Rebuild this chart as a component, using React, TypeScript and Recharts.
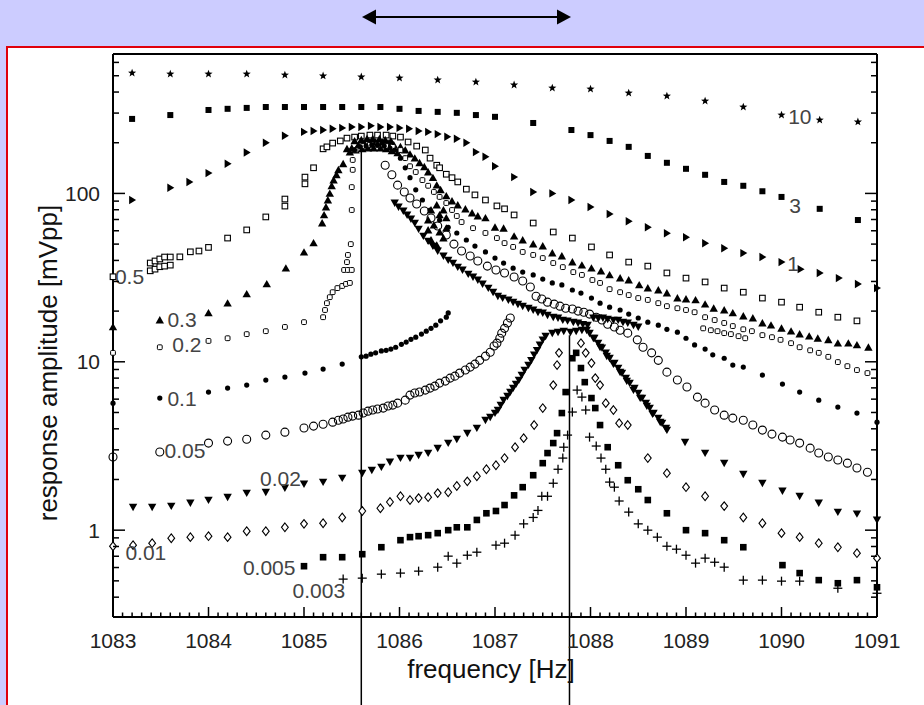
import React from 'react';
import { ScatterChart, Scatter, XAxis, YAxis, ReferenceLine } from 'recharts';

// frequency [Hz] and response amplitude [mVpp], one pair per drive level

// 10
const f10 = [1083.2, 1083.6, 1084.0, 1084.4, 1084.8, 1085.2, 1085.6, 1086.0, 1086.4, 1086.8, 1087.2, 1087.6, 1088.0, 1088.4, 1088.8, 1089.2, 1089.6, 1090.0, 1090.4, 1090.8];
const a10 = [519, 512, 512, 512, 505, 499, 492, 485, 472, 459, 441, 423, 417, 395, 379, 354, 326, 292, 273, 266];

// 3
const f3 = [1083.2, 1083.6, 1084.0, 1084.2, 1084.4, 1084.6, 1084.8, 1085.0, 1085.2, 1085.4, 1085.6, 1085.8, 1086.0, 1086.2, 1086.4, 1086.6, 1086.8, 1087.0, 1087.4, 1087.8, 1088.0, 1088.2, 1088.4, 1088.6, 1088.8, 1089.0, 1089.2, 1089.4, 1089.6, 1089.8, 1090.0, 1090.4, 1090.8];
const a3 = [277, 292, 313, 318, 322, 326, 326, 326, 326, 326, 326, 326, 318, 309, 305, 301, 292, 285, 262, 238, 222, 205, 189, 167, 152, 140, 129, 117, 111, 103, 95.3, 81.0, 69.5];

// 1
const f1 = [1083.2, 1083.6, 1083.8, 1084.0, 1084.2, 1084.4, 1084.6, 1084.8, 1085.0, 1085.1, 1085.2, 1085.3, 1085.4, 1085.5, 1085.6, 1085.7, 1085.8, 1085.9, 1086.0, 1086.1, 1086.2, 1086.3, 1086.4, 1086.5, 1086.6, 1086.7, 1086.8, 1086.9, 1087.0, 1087.2, 1087.4, 1087.6, 1087.8, 1088.0, 1088.2, 1088.4, 1088.6, 1088.8, 1089.0, 1089.2, 1089.4, 1089.6, 1089.8, 1090.0, 1090.2, 1090.4, 1090.6, 1090.8, 1091.0];
const a1 = [91.4, 108, 117, 132, 150, 175, 200, 220, 232, 235, 238, 242, 245, 248, 248, 252, 248, 248, 245, 242, 235, 232, 225, 217, 211, 200, 176, 165, 145, 125, 102, 100, 91.4, 83.0, 75.4, 68.3, 62.9, 58.0, 54.9, 50.6, 47.2, 44.2, 41.9, 39.1, 35.5, 33.7, 31.4, 29.0, 27.4];

// 0.5
const f05 = [1083.0, 1083.39, 1083.44, 1083.49, 1083.54, 1083.6, 1083.39, 1083.44, 1083.49, 1083.54, 1083.6, 1083.7, 1083.81, 1083.9, 1084.0, 1084.2, 1084.4, 1084.6, 1084.8, 1084.8, 1085.01, 1085.01, 1085.1, 1085.2, 1085.24, 1085.3, 1085.38, 1085.45, 1085.53, 1085.6, 1085.69, 1085.77, 1085.86, 1085.93, 1086.01, 1086.09, 1086.18, 1086.27, 1086.32, 1086.39, 1086.42, 1086.49, 1086.55, 1086.61, 1086.7, 1086.79, 1086.9, 1087.02, 1087.1, 1087.2, 1087.4, 1087.61, 1087.81, 1088.01, 1088.2, 1088.4, 1088.6, 1088.8, 1089.0, 1089.2, 1089.4, 1089.6, 1089.8, 1090.0, 1090.19, 1090.39, 1090.59, 1090.79];
const a05 = [32.0, 34.7, 35.5, 36.7, 37.0, 37.5, 38.6, 39.7, 40.8, 41.9, 41.9, 42.0, 45.0, 45.5, 47.8, 54.3, 60.7, 72.5, 84.1, 92.6, 114, 125, 142, 184, 189, 199, 205, 213, 216, 219, 222, 222, 222, 219, 216, 202, 191, 181, 162, 147, 142, 130, 124, 117, 106, 98, 91.4, 84.3, 81.0, 74.5, 66.7, 59.0, 54.3, 48.1, 43.1, 39.1, 37.0, 33.7, 31.4, 29.8, 27.4, 25.9, 23.9, 22.6, 21.1, 19.7, 18.4, 17.5];

// 0.3
const f03 = [1083.0, 1083.49, 1084.0, 1084.2, 1084.4, 1084.61, 1084.81, 1085.0, 1085.1, 1085.19, 1085.21, 1085.23, 1085.25, 1085.27, 1085.29, 1085.31, 1085.34, 1085.36, 1085.41, 1085.45, 1085.5, 1085.57, 1085.63, 1085.69, 1085.75, 1085.82, 1085.88, 1085.94, 1086.01, 1086.06, 1086.11, 1086.16, 1086.21, 1086.26, 1086.3, 1086.35, 1086.39, 1086.43, 1086.49, 1086.55, 1086.61, 1086.69, 1086.76, 1086.82, 1086.9, 1087.0, 1087.09, 1087.2, 1087.29, 1087.4, 1087.5, 1087.6, 1087.7, 1087.81, 1087.91, 1088.01, 1088.11, 1088.2, 1088.31, 1088.4, 1088.51, 1088.6, 1088.71, 1088.8, 1088.91, 1089.0, 1089.1, 1089.2, 1089.29, 1089.4, 1089.49, 1089.6, 1089.7, 1089.8, 1089.89, 1090.0, 1090.1, 1090.19, 1090.29, 1090.38, 1090.49, 1090.59, 1090.7, 1090.79, 1090.91];
const a03 = [16.1, 17.7, 19.5, 22.3, 25.3, 29.0, 36.0, 44.8, 50.8, 66.7, 74.5, 83.0, 91.4, 100, 111, 120, 129, 138, 150, 184, 186, 194, 199, 202, 202, 202, 199, 194, 189, 181, 171, 162, 152, 144, 134, 124, 112, 105, 96.6, 90.1, 85.3, 80.8, 76.5, 73.4, 71.5, 62.9, 62.1, 55.7, 52.9, 50.0, 48.7, 44.2, 42.5, 39.1, 37.5, 36.0, 34.6, 32.8, 31.4, 30.6, 28.6, 27.4, 26.7, 25.6, 23.9, 23.6, 23.3, 22.0, 20.8, 20.3, 19.5, 18.7, 18.2, 17.0, 16.5, 15.8, 15.2, 14.6, 14.2, 13.8, 13.5, 12.9, 12.9, 12.6, 12.2];
const f03loop = [1086.39, 1086.46, 1086.49, 1086.49, 1086.46, 1086.39, 1086.33, 1086.3, 1086.3, 1086.33, 1086.36, 1086.42, 1086.42];
const a03loop = [85.3, 79.7, 71.5, 62.2, 54.3, 49.3, 52.9, 60.6, 69.5, 79.7, 64.9, 59.0, 74.5];
const f03peak = [1085.48, 1085.54, 1085.61, 1085.67, 1085.73, 1085.8, 1085.86, 1085.92, 1085.98, 1085.53, 1085.6, 1085.66, 1085.72, 1085.79, 1085.85, 1085.91];
const a03peak = [176, 181, 184, 186, 186, 186, 184, 179, 174, 205, 208, 211, 211, 211, 208, 205];

// 0.2
const f02 = [1083.0, 1083.49, 1084.0, 1084.2, 1084.4, 1084.6, 1084.8, 1085.0, 1085.2, 1085.22, 1085.24, 1085.27, 1085.3, 1085.35, 1085.4, 1085.44, 1085.48, 1085.42, 1085.46, 1085.5, 1085.45, 1085.46, 1085.49, 1085.5, 1085.5, 1085.51, 1085.51, 1085.54, 1085.61, 1085.69, 1085.77, 1085.86, 1085.93, 1086.01, 1086.06, 1086.11, 1086.17, 1086.24, 1086.3, 1086.36, 1086.42, 1086.49, 1086.55, 1086.6, 1086.65, 1086.77, 1086.9, 1087.02, 1087.1, 1087.19, 1087.29, 1087.4, 1087.5, 1087.61, 1087.71, 1087.82, 1087.91, 1088.02, 1088.1, 1088.2, 1088.31, 1088.4, 1088.5, 1088.6, 1088.71, 1088.8, 1088.91, 1089.0, 1089.09, 1089.2, 1089.3, 1089.4, 1089.49, 1089.6, 1089.69, 1089.8, 1089.9, 1089.99, 1090.1, 1090.19, 1090.3, 1090.39, 1090.49, 1090.59, 1090.69, 1090.79, 1090.9];
const a02 = [11.3, 12.2, 13.3, 13.8, 14.6, 15.2, 16.1, 17.2, 18.4, 20.3, 22.3, 24.2, 25.9, 27.4, 28.2, 29.0, 29.4, 35.1, 35.1, 35.1, 39.1, 43.1, 50.0, 79.7, 109, 138, 158, 181, 191, 194, 194, 191, 189, 181, 162, 145, 134, 120, 111, 102, 95.3, 87.7, 79.7, 73.4, 67.6, 62.2, 58.2, 54.3, 50.7, 48.1, 44.9, 43.1, 41.3, 38.6, 36.5, 34.1, 32.8, 30.6, 29.4, 27.0, 25.9, 24.9, 23.9, 23.3, 22.3, 21.4, 20.8, 20.3, 19.7, 18.4, 17.7, 17.0, 16.3, 15.6, 15.2, 14.4, 14.0, 13.5, 12.9, 12.2, 11.7, 11.3, 10.7, 9.96, 9.42, 8.93, 8.57];
const f02b = [1089.18, 1089.26, 1089.33, 1089.4, 1089.47, 1089.55, 1089.62];
const a02b = [15.8, 15.4, 15.2, 14.8, 14.6, 14.2, 13.8];

// 0.1
const f01 = [1083.0, 1083.49, 1084.0, 1084.2, 1084.4, 1084.6, 1084.8, 1085.01, 1085.2, 1085.4, 1085.6, 1085.65, 1085.7, 1085.75, 1085.81, 1085.86, 1085.91, 1085.96, 1086.02, 1086.07, 1086.12, 1086.17, 1086.23, 1086.28, 1086.33, 1086.38, 1086.43, 1086.49, 1086.51];
const a01 = [5.68, 6.09, 6.61, 6.98, 7.27, 7.79, 8.11, 8.57, 9.05, 9.69, 10.7, 10.8, 11.1, 11.3, 11.6, 11.7, 11.9, 12.2, 12.7, 13.1, 13.6, 14.0, 14.6, 15.2, 15.8, 16.5, 17.5, 18.4, 19.5];
const f01up = [1085.53, 1085.59, 1085.65, 1085.71, 1085.77, 1085.84, 1085.9, 1085.95, 1086.01, 1086.06, 1086.11, 1086.17, 1086.24, 1086.32, 1086.42, 1086.51, 1086.6, 1086.7, 1086.79, 1086.9, 1087.0, 1087.09, 1087.19, 1087.29, 1087.4, 1087.5, 1087.6, 1087.7, 1087.81, 1087.9, 1088.01, 1088.1, 1088.2, 1088.31, 1088.4, 1088.5, 1088.6, 1088.71, 1088.8, 1088.91, 1089.0, 1089.09, 1089.2, 1089.28, 1089.4, 1089.49, 1089.6, 1089.8, 1090.01, 1090.19, 1090.39, 1090.59, 1090.79, 1091.0];
const a01up = [181, 189, 191, 194, 194, 191, 186, 181, 162, 142, 124, 105, 91.4, 79.7, 69.5, 62.9, 58.2, 52.9, 48.7, 44.9, 41.3, 38.6, 36.0, 34.1, 32.8, 31.0, 29.4, 28.6, 26.7, 25.6, 23.9, 22.3, 21.1, 20.3, 19.2, 18.2, 17.2, 16.5, 15.6, 15.0, 13.8, 12.6, 11.9, 11.0, 10.5, 9.56, 9.30, 8.34, 7.37, 6.61, 5.92, 5.38, 4.96, 4.38];

// 0.05
const f005 = [1083.0, 1083.49, 1084.0, 1084.2, 1084.4, 1084.6, 1084.8, 1085.0, 1085.1, 1085.2, 1085.3, 1085.36, 1085.41, 1085.46, 1085.51, 1085.57, 1085.62, 1085.67, 1085.72, 1085.77, 1085.83, 1085.88, 1085.93, 1085.98, 1086.06, 1086.11, 1086.16, 1086.21, 1086.27, 1086.32, 1086.37, 1086.42, 1086.48, 1086.53, 1086.58, 1086.63, 1086.69, 1086.74, 1086.79, 1086.84, 1086.9, 1086.95, 1086.99, 1087.02, 1087.05, 1087.07, 1087.1, 1087.13, 1087.16];
const a005 = [2.72, 2.91, 3.29, 3.38, 3.47, 3.67, 3.82, 4.04, 4.15, 4.26, 4.38, 4.50, 4.57, 4.69, 4.76, 4.82, 4.96, 5.09, 5.17, 5.24, 5.31, 5.46, 5.53, 5.68, 5.92, 6.34, 6.52, 6.61, 6.79, 6.98, 7.17, 7.47, 7.68, 8.00, 8.22, 8.57, 8.93, 9.30, 9.69, 10.2, 10.8, 11.4, 12.4, 12.9, 13.8, 14.8, 15.8, 17.0, 18.2];
const f005up = [1085.85, 1085.92, 1085.98, 1086.05, 1086.11, 1086.18, 1086.26, 1086.33, 1086.4, 1086.49, 1086.57, 1086.65, 1086.74, 1086.82, 1086.92, 1087.01, 1087.1, 1087.2, 1087.29, 1087.37, 1087.43, 1087.49, 1087.55, 1087.62, 1087.68, 1087.74, 1087.81, 1087.87, 1087.93, 1087.99, 1088.06, 1088.12, 1088.18, 1088.25, 1088.31, 1088.39, 1088.49, 1088.55, 1088.64, 1088.71, 1088.8, 1088.91, 1089.01, 1089.12, 1089.2, 1089.3, 1089.4, 1089.49, 1089.6, 1089.7, 1089.8, 1089.9, 1090.01, 1090.09, 1090.19, 1090.3, 1090.39, 1090.49, 1090.59, 1090.69, 1090.79, 1090.9];
const a005up = [147, 129, 112, 102, 94.0, 86.5, 78.7, 71.5, 64.1, 56.6, 50.0, 45.5, 42.5, 39.7, 37.0, 35.1, 33.7, 31.9, 30.2, 27.8, 24.5, 23.6, 22.6, 22.0, 21.4, 20.8, 20.6, 20.0, 19.7, 19.2, 18.4, 17.7, 16.7, 16.1, 15.4, 14.8, 13.5, 12.2, 11.3, 10.2, 8.68, 7.79, 7.08, 6.17, 5.68, 5.17, 4.82, 4.63, 4.50, 4.21, 3.93, 3.72, 3.57, 3.43, 3.29, 3.07, 2.87, 2.72, 2.61, 2.50, 2.34, 2.21];

// 0.02
const f002 = [1083.21, 1083.41, 1083.61, 1083.81, 1084.0, 1084.2, 1084.4, 1084.6, 1084.8, 1085.0, 1085.2, 1085.4, 1085.61, 1085.71, 1085.81, 1085.9, 1086.01, 1086.11, 1086.2, 1086.3, 1086.4, 1086.51, 1086.6, 1086.71, 1086.81, 1086.9, 1086.95, 1087.0, 1087.03, 1087.06, 1087.09, 1087.13, 1087.16, 1087.19, 1087.22, 1087.25, 1087.28, 1087.31, 1087.35, 1087.38, 1087.41, 1087.44, 1087.47, 1087.5, 1087.53, 1087.6, 1087.66, 1087.72, 1087.79, 1087.85, 1087.91, 1087.96, 1088.03, 1088.1, 1088.17, 1088.24, 1088.31, 1088.38, 1088.45, 1088.52, 1088.59, 1088.65, 1088.73, 1088.8, 1088.99, 1089.2, 1089.4, 1089.6, 1089.8, 1090.01, 1090.19, 1090.39, 1090.59, 1090.79, 1091.0];
const a002 = [1.37, 1.37, 1.39, 1.45, 1.51, 1.57, 1.66, 1.68, 1.78, 1.88, 1.93, 2.04, 2.18, 2.27, 2.37, 2.54, 2.68, 2.68, 2.79, 2.87, 3.07, 3.29, 3.47, 3.77, 4.04, 4.50, 4.69, 4.96, 5.17, 5.53, 5.92, 6.25, 6.61, 6.98, 7.37, 7.79, 8.34, 8.93, 9.56, 10.2, 11.0, 11.7, 12.6, 13.5, 14.2, 14.8, 15.0, 15.2, 15.0, 15.2, 15.4, 15.4, 13.8, 12.2, 10.8, 9.69, 8.68, 7.68, 6.79, 6.09, 5.46, 4.89, 4.38, 3.93, 3.33, 2.87, 2.50, 2.15, 1.90, 1.71, 1.59, 1.45, 1.28, 1.25, 1.15];
const f002fall = [1087.99, 1088.04, 1088.08, 1088.12, 1088.16, 1088.2, 1088.25, 1088.29, 1088.33, 1088.37, 1088.41, 1088.46, 1088.5, 1088.54, 1088.58, 1088.62, 1088.66, 1088.71, 1088.75, 1088.79];
const a002fall = [14.8, 13.8, 12.9, 12.1, 11.3, 10.5, 9.82, 9.18, 8.57, 8.00, 7.47, 6.98, 6.52, 6.09, 5.68, 5.31, 4.96, 4.63, 4.32, 4.04];
const f002hi = [1085.95, 1085.99, 1086.04, 1086.08, 1086.12, 1086.16, 1086.2, 1086.25, 1086.3, 1086.35, 1086.4, 1086.46, 1086.51, 1086.56, 1086.61, 1086.66, 1086.72, 1086.77, 1086.82, 1086.87, 1086.93, 1086.98, 1087.03, 1087.08, 1087.14, 1087.19, 1087.24, 1087.29, 1087.35, 1087.4, 1087.45, 1087.5, 1087.55, 1087.61, 1087.66, 1087.71, 1087.76, 1087.82, 1087.87, 1087.92, 1087.97, 1088.03, 1088.08, 1088.13, 1088.18, 1088.24, 1088.29, 1088.34, 1088.39, 1088.45, 1088.5];
const a002hi = [87.7, 83.1, 78.7, 74.5, 70.5, 66.7, 61.4, 55.8, 52.1, 48.7, 45.5, 42.5, 40.2, 38.6, 36.5, 35.1, 33.2, 31.9, 30.6, 29.0, 27.4, 25.9, 24.5, 23.9, 23.3, 22.6, 22.0, 21.4, 20.8, 20.3, 19.7, 19.5, 18.9, 18.4, 18.2, 17.7, 17.5, 17.2, 17.0, 16.7, 16.5, 18.2, 18.2, 18.2, 17.9, 17.7, 17.7, 17.2, 17.0, 16.5, 16.1];

// 0.01
const f001 = [1083.0, 1083.21, 1083.41, 1083.61, 1083.81, 1084.0, 1084.2, 1084.4, 1084.6, 1084.8, 1085.0, 1085.2, 1085.4, 1085.61, 1085.8, 1085.9, 1086.01, 1086.11, 1086.2, 1086.3, 1086.4, 1086.51, 1086.6, 1086.71, 1086.81, 1086.91, 1087.01, 1087.1, 1087.21, 1087.3, 1087.41, 1087.5, 1087.61, 1087.65, 1087.67, 1087.9, 1087.95, 1088.01, 1088.05, 1088.1, 1088.16, 1088.24, 1088.3, 1088.39, 1088.6, 1088.8, 1089.0, 1089.2, 1089.4, 1089.6, 1089.8, 1090.0, 1090.19, 1090.39, 1090.59, 1090.79, 1091.0];
const a001 = [0.803, 0.815, 0.837, 0.896, 0.909, 0.921, 0.909, 0.986, 0.986, 1.04, 1.09, 1.10, 1.19, 1.30, 1.35, 1.47, 1.59, 1.51, 1.55, 1.57, 1.66, 1.68, 1.83, 1.95, 2.09, 2.30, 2.43, 2.68, 3.11, 3.52, 4.21, 5.31, 7.27, 9.56, 11.3, 12.9, 11.3, 9.82, 8.00, 7.27, 5.68, 5.17, 4.32, 4.21, 2.68, 2.18, 1.80, 1.59, 1.39, 1.19, 1.10, 0.960, 0.909, 0.837, 0.792, 0.730, 0.682];

// 0.005
const f0005 = [1085.0, 1085.2, 1085.4, 1085.61, 1085.81, 1086.01, 1086.11, 1086.2, 1086.3, 1086.4, 1086.51, 1086.6, 1086.71, 1086.81, 1086.91, 1087.01, 1087.1, 1087.2, 1087.29, 1087.4, 1087.5, 1087.55, 1087.61, 1087.65, 1087.7, 1087.74, 1087.81, 1087.85, 1087.9, 1087.94, 1088.01, 1088.05, 1088.1, 1088.18, 1088.29, 1088.39, 1088.5, 1088.6, 1088.8, 1089.0, 1089.2, 1089.4, 1089.6, 1090.01, 1090.19, 1090.39, 1090.59, 1090.79, 1091.0];
const a0005 = [0.611, 0.691, 0.691, 0.720, 0.792, 0.872, 0.909, 0.921, 0.934, 0.960, 1.00, 1.04, 1.04, 1.15, 1.26, 1.30, 1.41, 1.61, 1.80, 2.12, 2.50, 2.87, 3.29, 3.77, 4.96, 6.61, 10.5, 11.3, 9.18, 7.57, 6.09, 5.31, 4.21, 3.11, 2.43, 1.98, 1.75, 1.51, 1.26, 1.00, 0.960, 0.872, 0.792, 0.620, 0.556, 0.505, 0.484, 0.505, 0.458];

// 0.003
const f0003 = [1085.41, 1085.61, 1085.81, 1086.01, 1086.2, 1086.4, 1086.51, 1086.6, 1086.71, 1086.81, 1087.01, 1087.1, 1087.21, 1087.3, 1087.4, 1087.45, 1087.49, 1087.55, 1087.61, 1087.66, 1087.71, 1087.72, 1087.76, 1087.81, 1087.86, 1087.91, 1087.95, 1087.99, 1088.06, 1088.11, 1088.16, 1088.2, 1088.25, 1088.3, 1088.4, 1088.5, 1088.6, 1088.7, 1088.8, 1088.9, 1089.0, 1089.1, 1089.2, 1089.3, 1089.4, 1089.6, 1089.8, 1090.0, 1090.19, 1090.59, 1091.0];
const a0003 = [0.512, 0.519, 0.548, 0.556, 0.571, 0.603, 0.701, 0.637, 0.710, 0.740, 0.815, 0.837, 0.934, 1.09, 1.19, 1.31, 1.59, 1.59, 1.90, 2.30, 2.68, 3.11, 3.67, 5.03, 6.79, 6.17, 5.17, 3.57, 3.16, 2.68, 2.30, 1.93, 1.80, 1.49, 1.28, 1.09, 1.00, 0.909, 0.803, 0.771, 0.710, 0.637, 0.682, 0.645, 0.603, 0.505, 0.505, 0.498, 0.498, 0.452, 0.422];

// drive level labels written next to the curves (left edge / middle of the text)
const labelText = ['10', '3', '1', '0.5', '0.3', '0.2', '0.1', '0.05', '0.02', '0.01', '0.005', '0.003'];
const labelF = [1090.07, 1090.08, 1090.06, 1083.02, 1083.57, 1083.62, 1083.57, 1083.54, 1084.54, 1083.13, 1084.36, 1084.88];
const labelA = [285, 85.3, 38.6, 32.3, 17.9, 12.6, 6.09, 2.99, 2.04, 0.74, 0.603, 0.44];

// the two marked frequencies
const markF = [1085.6, 1087.78];
const markTop = [181, 14.4];

const X_DOMAIN = [1083, 1091];
const Y_DOMAIN = [0.305, 673];
const xTicks = Array.from({ length: 81 }, (_, i) => Math.round((1083 + i * 0.1) * 10) / 10);
const yTicks = [0.1, 1, 10, 100]
  .flatMap((d) => [1, 2, 3, 4, 5, 6, 7, 8, 9].map((k) => Number((d * k).toPrecision(3))))
  .filter((v) => v > Y_DOMAIN[0] && v < Y_DOMAIN[1]);
const yMajor = [1, 10, 100];

const zip = (fs: number[], as: number[]) => fs.map((f, i) => ({ f, a: as[i] }));

type P = { cx?: number; cy?: number; payload?: any; t?: string };

const Star = ({ cx = 0, cy = 0 }: P) => {
  const pts: string[] = [];
  for (let i = 0; i < 10; i++) {
    const r = i % 2 === 0 ? 4.3 : 1.8;
    const ang = -Math.PI / 2 + (i * Math.PI) / 5;
    pts.push(`${cx + r * Math.cos(ang)},${cy + r * Math.sin(ang)}`);
  }
  return <polygon points={pts.join(' ')} fill="#000" />;
};
const FillSq = ({ cx = 0, cy = 0 }: P) => <rect x={cx - 3} y={cy - 3} width={6} height={6} fill="#000" />;
const FillSqB = ({ cx = 0, cy = 0 }: P) => <rect x={cx - 3.3} y={cy - 3.3} width={6.6} height={6.6} fill="#000" />;
const RightTri = ({ cx = 0, cy = 0 }: P) => (
  <polygon points={`${cx - 3},${cy - 4.2} ${cx + 4},${cy} ${cx - 3},${cy + 4.2}`} fill="#000" />
);
const UpTri = ({ cx = 0, cy = 0 }: P) => (
  <polygon points={`${cx - 4.2},${cy + 3.4} ${cx + 4.2},${cy + 3.4} ${cx},${cy - 4}`} fill="#000" />
);
const DownTri = ({ cx = 0, cy = 0 }: P) => (
  <polygon points={`${cx - 4.2},${cy - 3.4} ${cx + 4.2},${cy - 3.4} ${cx},${cy + 4}`} fill="#000" />
);
const OpenSq = ({ cx = 0, cy = 0 }: P) => (
  <rect x={cx - 2.8} y={cy - 2.8} width={5.6} height={5.6} fill="#fff" stroke="#000" strokeWidth={1.1} />
);
const OpenSqS = ({ cx = 0, cy = 0 }: P) => (
  <rect x={cx - 2.4} y={cy - 2.4} width={4.8} height={4.8} rx={1} fill="#fff" stroke="#000" strokeWidth={1} />
);
const Dot = ({ cx = 0, cy = 0 }: P) => <circle cx={cx} cy={cy} r={2.6} fill="#000" />;
const OpenCirc = ({ cx = 0, cy = 0 }: P) => (
  <circle cx={cx} cy={cy} r={4} fill="none" stroke="#000" strokeWidth={1.1} />
);
const Diamond = ({ cx = 0, cy = 0 }: P) => (
  <polygon points={`${cx},${cy - 4.3} ${cx + 3.4},${cy} ${cx},${cy + 4.3} ${cx - 3.4},${cy}`} fill="#fff" stroke="#000" strokeWidth={1.1} />
);
const Plus = ({ cx = 0, cy = 0 }: P) => (
  <g stroke="#000" strokeWidth={1.3}>
    <line x1={cx - 4.5} x2={cx + 4.5} y1={cy} y2={cy} />
    <line x1={cx} x2={cx} y1={cy - 4.5} y2={cy + 4.5} />
  </g>
);
const LabelText = (p: P) => (
  <text x={p.cx} y={p.cy} dy="0.36em" fontSize={21} fill="#444">
    {p.payload?.t ?? p.t}
  </text>
);

const series = [
  { id: '10', data: zip(f10, a10), shape: Star },
  { id: '3', data: zip(f3, a3), shape: FillSq },
  { id: '1', data: zip(f1, a1), shape: RightTri },
  { id: '0.5', data: zip(f05, a05), shape: OpenSq },
  { id: '0.3', data: zip(f03, a03), shape: UpTri },
  { id: '0.3b', data: zip(f03loop, a03loop), shape: UpTri },
  { id: '0.3c', data: zip(f03peak, a03peak), shape: UpTri },
  { id: '0.2', data: zip(f02, a02), shape: OpenSqS },
  { id: '0.2b', data: zip(f02b, a02b), shape: OpenSqS },
  { id: '0.1', data: zip(f01, a01), shape: Dot },
  { id: '0.1b', data: zip(f01up, a01up), shape: Dot },
  { id: '0.05', data: zip(f005, a005), shape: OpenCirc },
  { id: '0.05b', data: zip(f005up, a005up), shape: OpenCirc },
  { id: '0.02', data: zip(f002, a002), shape: DownTri },
  { id: '0.02b', data: zip(f002fall, a002fall), shape: DownTri },
  { id: '0.02c', data: zip(f002hi, a002hi), shape: DownTri },
  { id: '0.01', data: zip(f001, a001), shape: Diamond },
  { id: '0.005', data: zip(f0005, a0005), shape: FillSqB },
  { id: '0.003', data: zip(f0003, a0003), shape: Plus },
];

const labels = labelText.map((t, i) => ({ t, f: labelF[i], a: labelA[i] }));

const TICK = { stroke: '#000', strokeWidth: 1.5 };

const BottomTick = ({ x, y, payload }: any) => {
  const v = payload.value;
  const major = Number.isInteger(v);
  return (
    <g>
      <line x1={x} x2={x} y1={y} y2={y - (major ? 10 : 4.5)} {...TICK} />
      {major && (
        <text x={x} y={y + 31} textAnchor="middle" fontSize={21} fill="#222">
          {v}
        </text>
      )}
    </g>
  );
};
const TopTick = ({ x, y, payload }: any) => {
  const major = Number.isInteger(payload.value);
  return <line x1={x} x2={x} y1={y} y2={y + (major ? 10 : 4.5)} {...TICK} />;
};
const LeftTick = ({ x, y, payload }: any) => {
  const v = payload.value;
  const major = yMajor.includes(v);
  return (
    <g>
      <line x1={x} x2={x + (major ? 12 : 6)} y1={y} y2={y} {...TICK} />
      {major && (
        <text x={x - 13} y={y} dy="0.36em" textAnchor="end" fontSize={21} fill="#222">
          {v}
        </text>
      )}
    </g>
  );
};
const RightTick = ({ x, y, payload }: any) => {
  const major = yMajor.includes(payload.value);
  return <line x1={x} x2={x - (major ? 12 : 6)} y1={y} y2={y} {...TICK} />;
};

const AXIS_LINE = { stroke: '#000', strokeWidth: 2 };

export default function App() {
  return (
    <div
      style={{
        position: 'absolute',
        left: 0,
        top: 0,
        width: 924,
        height: 705,
        overflow: 'hidden',
        background: '#fff',
        fontFamily: '"Liberation Sans", Arial, sans-serif',
      }}
    >
      <div style={{ position: 'absolute', left: 0, top: 0, width: 924, height: 46, background: '#CCCCFF' }} />
      <div style={{ position: 'absolute', left: 0, top: 46, width: 6, height: 659, background: '#CCCCFF' }} />
      <div style={{ position: 'absolute', left: 6, top: 46, width: 918, height: 2, background: '#E0000B' }} />
      <div style={{ position: 'absolute', left: 6, top: 46, width: 2, height: 659, background: '#E0000B' }} />

      <div style={{ position: 'absolute', left: 0, top: 0 }}>
        <ScatterChart width={924} height={705} margin={{ top: 53, right: 46, bottom: 58, left: 53 }}>
          <XAxis
            type="number"
            dataKey="f"
            domain={X_DOMAIN}
            ticks={xTicks}
            interval={0}
            height={30}
            tickSize={0}
            tickMargin={0}
            tickLine={false}
            axisLine={AXIS_LINE}
            tick={BottomTick}
          />
          <XAxis
            xAxisId="top"
            orientation="top"
            type="number"
            domain={X_DOMAIN}
            allowDataOverflow
            ticks={xTicks}
            interval={0}
            height={1}
            tickSize={0}
            tickMargin={0}
            tickLine={false}
            axisLine={AXIS_LINE}
            tick={TopTick}
          />
          <YAxis
            type="number"
            dataKey="a"
            scale="log"
            domain={Y_DOMAIN}
            ticks={yTicks}
            interval={0}
            width={60}
            tickSize={0}
            tickMargin={0}
            tickLine={false}
            axisLine={AXIS_LINE}
            tick={LeftTick}
          />
          <YAxis
            yAxisId="right"
            orientation="right"
            type="number"
            scale="log"
            domain={Y_DOMAIN}
            allowDataOverflow
            ticks={yTicks}
            interval={0}
            width={1}
            tickSize={0}
            tickMargin={0}
            tickLine={false}
            axisLine={AXIS_LINE}
            tick={RightTick}
          />
          {markF.map((f, i) => (
            <ReferenceLine
              key={f}
              segment={[
                { x: f, y: markTop[i] },
                { x: f, y: 0.0912 },
              ]}
              stroke="#000"
              strokeWidth={1.5}
              ifOverflow="visible"
            />
          ))}
          {series.map((s) => (
            <Scatter key={s.id} data={s.data} shape={s.shape} isAnimationActive={false} />
          ))}
          <Scatter data={labels} shape={LabelText} isAnimationActive={false} />
        </ScatterChart>
      </div>

      <svg style={{ position: 'absolute', left: 0, top: 0 }} width={924} height={705}>
        <line x1={372} x2={560} y1={17} y2={17} stroke="#000" strokeWidth={2.2} />
        <polygon points="362,17 376,9.5 376,24.5" fill="#000" />
        <polygon points="571,17 557,9.5 557,24.5" fill="#000" />
        <text x={491} y={678} textAnchor="middle" fontSize={26} fill="#111">
          frequency [Hz]
        </text>
        <text transform="translate(57,363) rotate(-90)" textAnchor="middle" fontSize={26} fill="#111">
          response amplitude [mVpp]
        </text>
      </svg>
    </div>
  );
}
